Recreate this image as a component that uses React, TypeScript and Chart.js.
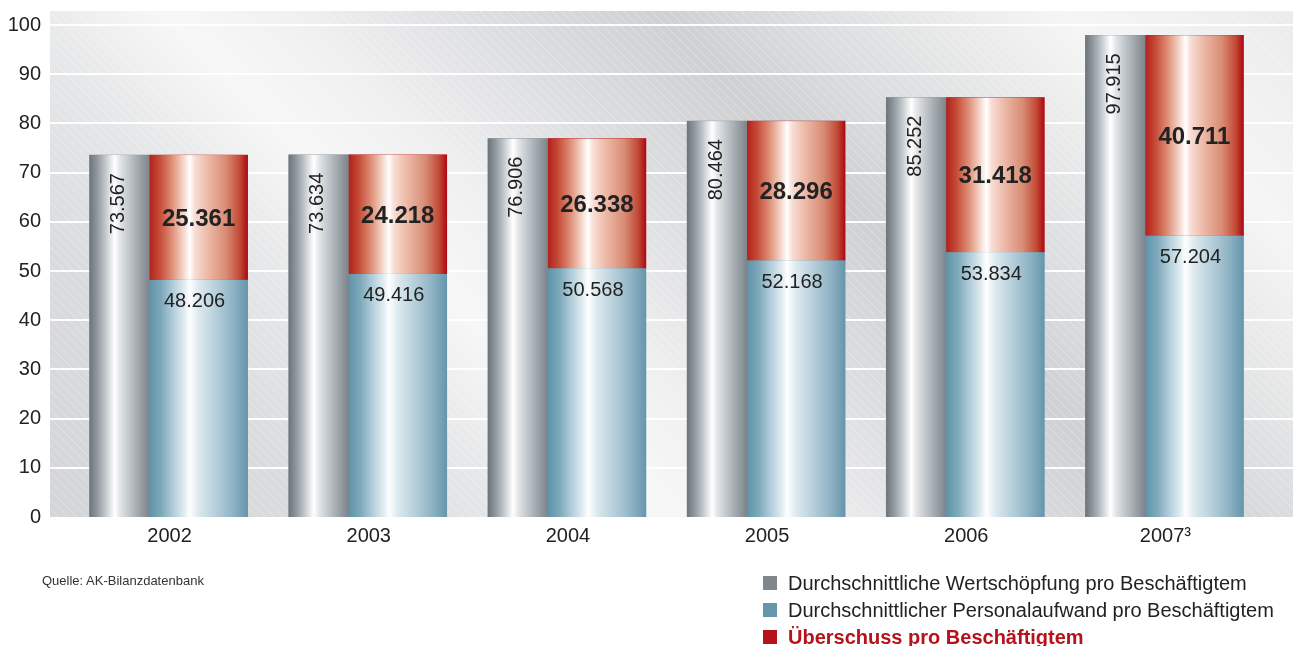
import React, { useEffect, useRef } from "react";
import { Chart, registerables } from "chart.js";

Chart.register(...registerables);

// ---------- data ----------
const years = ["2002", "2003", "2004", "2005", "2006", "2007³"];
const wertschoepfung = [73.567, 73.634, 76.906, 80.464, 85.252, 97.915];
const personalaufwand = [48.206, 49.416, 50.568, 52.168, 53.834, 57.204];
const ueberschuss = [25.361, 24.218, 26.338, 28.296, 31.418, 40.711];
const yTicks = [0, 10, 20, 30, 40, 50, 60, 70, 80, 90, 100];
const seriesNames = [
  "Durchschnittliche Wertschöpfung pro Beschäftigtem",
  "Durchschnittlicher Personalaufwand pro Beschäftigtem",
  "Überschuss pro Beschäftigtem",
];
const sourceText = "Quelle: AK-Bilanzdatenbank";

// ---------- styles ----------
const FONT = "'Liberation Sans', Arial, Helvetica, sans-serif";
const TEXT = "#222222";
const GREY = "#7f878c";
const BLUE = "#6497ad";
const RED = "#b5121b";

const greyStops: [number, string][] = [
  [0, "#6b757b"], [0.12, "#8f979d"], [0.25, "#bcc2c6"], [0.36, "#e8ebec"],
  [0.42, "#ffffff"], [0.5, "#e4e7e9"], [0.65, "#c3c8cc"], [0.85, "#99a1a7"], [1, "#7b848a"],
];
const redStops: [number, string][] = [
  [0, "#b3221b"], [0.1, "#c44a36"], [0.22, "#dd8a72"], [0.33, "#f2cdbf"],
  [0.41, "#ffffff"], [0.46, "#f8ded5"], [0.6, "#ecb7a5"], [0.78, "#d88c75"], [0.92, "#c24a36"], [1, "#ad0a13"],
];
const blueStops: [number, string][] = [
  [0, "#5f93a9"], [0.12, "#7ea9bb"], [0.25, "#b5d0dc"], [0.36, "#e3eef3"],
  [0.41, "#ffffff"], [0.5, "#dde9ef"], [0.65, "#bcd3de"], [0.85, "#8fb3c4"], [1, "#6696ac"],
];

function hGrad(ctx: CanvasRenderingContext2D, x0: number, x1: number, stops: [number, string][]) {
  const g = ctx.createLinearGradient(x0, 0, x1, 0);
  stops.forEach(([p, c]) => g.addColorStop(p, c));
  return g;
}

const backgroundPlugin = {
  id: "metalBackground",
  beforeDraw(chart: any) {
    const { ctx, chartArea, scales } = chart;
    const left = chartArea.left;
    const top = chartArea.top - 14;
    const right = chart.width;
    const bottom = chartArea.bottom;
    ctx.save();
    ctx.beginPath();
    ctx.rect(left, top, right - left, bottom - top);
    ctx.clip();
    // diagonal gradient along s = x - y
    const sMin = -500, sMax = 1300;
    const g = ctx.createLinearGradient(0, 500, 900, -400);
    const bgStops: [number, string][] = [
      [-500, "#d3d4d6"], [-200, "#dadbdd"], [0, "#e6e7e8"], [150, "#f7f7f7"],
      [280, "#f0f0f1"], [450, "#dedfe1"], [650, "#cfd0d2"], [850, "#e2e3e4"],
      [1050, "#f5f5f5"], [1200, "#efeff0"], [1300, "#e9eaeb"],
    ];
    bgStops.forEach(([s, c]) => g.addColorStop((s - sMin) / (sMax - sMin), c));
    ctx.fillStyle = g;
    ctx.fillRect(left, top, right - left, bottom - top);
    // fine brushed stripes
    ctx.strokeStyle = "rgba(255,255,255,0.3)";
    ctx.lineWidth = 1;
    const H = bottom - top;
    ctx.beginPath();
    for (let k = -H; k < right - left; k += 9) {
      ctx.moveTo(left + k, top);
      ctx.lineTo(left + k + H, bottom);
    }
    ctx.stroke();
    // grid lines
    ctx.strokeStyle = "rgba(255,255,255,0.95)";
    ctx.lineWidth = 2;
    yTicks.forEach((v) => {
      if (v === 0) return;
      const py = Math.round(scales.y.getPixelForValue(v));
      ctx.beginPath();
      ctx.moveTo(left, py);
      ctx.lineTo(right, py);
      ctx.stroke();
    });
    ctx.restore();
  },
};

const barPlugin = {
  id: "cylinderBars",
  afterDatasetsDraw(chart: any) {
    const { ctx } = chart;
    const stopsByDs = [greyStops, blueStops, redStops];
    ctx.save();
    chart.data.datasets.forEach((ds: any, di: number) => {
      const meta = chart.getDatasetMeta(di);
      meta.data.forEach((el: any) => {
        const { x, y, base, width } = el.getProps(["x", "y", "base", "width"], true);
        const l = x - width / 2;
        const t = Math.min(y, base);
        const h = Math.abs(base - y);
        ctx.fillStyle = hGrad(ctx, l, l + width, stopsByDs[di]);
        ctx.fillRect(l, t, width, h);
      });
    });
    // labels
    ctx.fillStyle = TEXT;
    const gMeta = chart.getDatasetMeta(0);
    const bMeta = chart.getDatasetMeta(1);
    const rMeta = chart.getDatasetMeta(2);
    years.forEach((_, i) => {
      const g = gMeta.data[i].getProps(["x", "y"], true);
      ctx.save();
      ctx.translate(g.x - 1, g.y + 18);
      ctx.rotate(-Math.PI / 2);
      ctx.font = `20px ${FONT}`;
      ctx.textAlign = "right";
      ctx.textBaseline = "middle";
      ctx.fillText(wertschoepfung[i].toFixed(3), 0, 0);
      ctx.restore();

      const b = bMeta.data[i].getProps(["x", "y"], true);
      ctx.font = `20px ${FONT}`;
      ctx.textAlign = "center";
      ctx.textBaseline = "middle";
      ctx.fillText(personalaufwand[i].toFixed(3), b.x - 4, b.y + 22);

      const r = rMeta.data[i].getProps(["x", "y", "base"], true);
      ctx.font = `bold 24px ${FONT}`;
      ctx.fillText(ueberschuss[i].toFixed(3), r.x, (r.y + r.base) / 2 + 2);
    });
    ctx.restore();
  },
};

export default function App() {
  const canvasRef = useRef<HTMLCanvasElement | null>(null);

  useEffect(() => {
    if (!canvasRef.current) return;
    Chart.defaults.font.family = FONT;
    const chart = new Chart(canvasRef.current, {
      type: "bar",
      data: {
        labels: years,
        datasets: [
          { label: seriesNames[0], data: wertschoepfung, backgroundColor: GREY, stack: "a", barThickness: 60 },
          { label: seriesNames[1], data: personalaufwand, backgroundColor: BLUE, stack: "b", barThickness: 98 },
          { label: seriesNames[2], data: ueberschuss, backgroundColor: RED, stack: "b", barThickness: 98 },
        ],
      },
      options: {
        animation: false,
        responsive: false,
        devicePixelRatio: 1,
        layout: { padding: { top: 25, right: 48, left: 0, bottom: 0 } },
        plugins: { legend: { display: false }, tooltip: { enabled: false } },
        scales: {
          x: {
            offset: true,
            grid: { display: false, drawTicks: false },
            border: { display: false },
            ticks: { color: TEXT, font: { size: 20, family: FONT }, padding: 7, labelOffset: 20, maxRotation: 0 },
            afterFit: (s: any) => { s.height = 129; },
          },
          y: {
            stacked: true,
            min: 0,
            max: 100,
            grid: { display: false, drawTicks: false },
            border: { display: false },
            ticks: { stepSize: 10, color: TEXT, font: { size: 20, family: FONT }, padding: 9 },
            afterFit: (s: any) => { s.width = 50; },
          },
        },
      },
      plugins: [backgroundPlugin, barPlugin],
    });
    return () => chart.destroy();
  }, []);

  const legendColors = [GREY, BLUE, RED];
  return (
    <div style={{ position: "fixed", left: 0, top: 0, width: 1293, height: 646, overflow: "hidden", background: "#fff", fontFamily: FONT }}>
      <canvas ref={canvasRef} width={1293} height={646} style={{ position: "absolute", left: 0, top: 0 }} />
      <div style={{ position: "absolute", left: 42, top: 573, fontSize: 13, color: "#333", whiteSpace: "nowrap" }}>{sourceText}</div>
      {seriesNames.map((name, i) => (
        <div key={name} style={{ position: "absolute", left: 763, top: 570 + i * 27, height: 26, display: "flex", alignItems: "center", whiteSpace: "nowrap" }}>
          <span style={{ display: "inline-block", width: 14, height: 14, background: legendColors[i], marginRight: 11 }} />
          <span style={{ fontSize: 20, color: i === 2 ? RED : TEXT, fontWeight: i === 2 ? "bold" : "normal" }}>{name}</span>
        </div>
      ))}
    </div>
  );
}
